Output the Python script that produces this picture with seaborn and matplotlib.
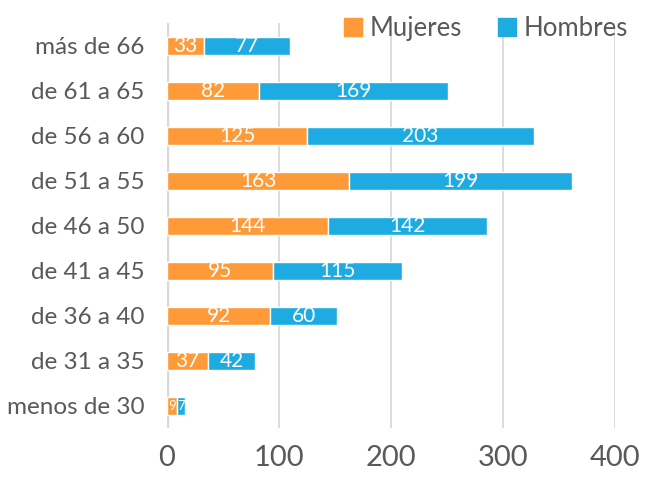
import pandas as pd
import matplotlib
matplotlib.use("Agg")
import matplotlib.pyplot as plt
import seaborn as sns
from matplotlib.patches import Patch

# =====================================================
# DATA
# =====================================================

grupos = [
    "más de 66", "de 61 a 65", "de 56 a 60", "de 51 a 55", "de 46 a 50",
    "de 41 a 45", "de 36 a 40", "de 31 a 35", "menos de 30",
]
mujeres = [33, 82, 125, 163, 144, 95, 92, 37, 9]
hombres = [77, 169, 203, 199, 142, 115, 60, 42, 7]

NARANJA = "#FE9A37"
AZUL = "#1DABE2"
GRIS = "#595959"

df = pd.DataFrame({"Grupo": grupos, "Mujeres": mujeres, "Hombres": hombres})

# =====================================================
# PLOT
# =====================================================

sns.set_style("white")
plt.rcParams["font.family"] = ["Lato", "DejaVu Sans"]

fig = plt.figure(figsize=(6.45, 4.8), dpi=100)
ax = fig.add_axes([0.259, 0.108, 0.694, 0.844])

sns.barplot(
    data=df,
    y="Grupo",
    x="Mujeres",
    color=NARANJA,
    width=0.4,
    saturation=1,
    ax=ax
)
ax.barh(
    df["Grupo"],
    df["Hombres"],
    left=df["Mujeres"],
    height=0.4,
    color=AZUL
)

# white values inside the bars, the tiny last row a bit smaller
for cont in ax.containers:
    texts = ax.bar_label(cont, label_type="center", color="white", fontsize=15)
    texts[-1].set_fontsize(9.5)

ax.set_xlim(0, 400)
ax.set_ylim(8.5, -0.5)
ax.set_xticks([0, 100, 200, 300, 400])
ax.xaxis.grid(True, color="#D9D9D9", linewidth=1.3)
ax.set_axisbelow(True)
ax.axvline(0, color="#D9D9D9", linewidth=2.5, zorder=0.5)

for side in ["top", "right", "bottom", "left"]:
    ax.spines[side].set_visible(False)

ax.set_xlabel("")
ax.set_ylabel("")
ax.tick_params(axis="x", labelsize=21, colors=GRIS, length=0, pad=12)
ax.tick_params(axis="y", labelsize=17.5, colors=GRIS, length=0, pad=16)

handles = [Patch(color=NARANJA, label="Mujeres"), Patch(color=AZUL, label="Hombres")]
fig.legend(
    handles=handles,
    loc="upper right",
    bbox_to_anchor=(1.01, 1.015),
    ncol=2,
    frameon=False,
    fontsize=18.5,
    labelcolor=GRIS,
    handlelength=0.7,
    handleheight=0.7,
    handletextpad=0.3,
    columnspacing=1.4
)

fig.savefig("out.png", dpi=100)
